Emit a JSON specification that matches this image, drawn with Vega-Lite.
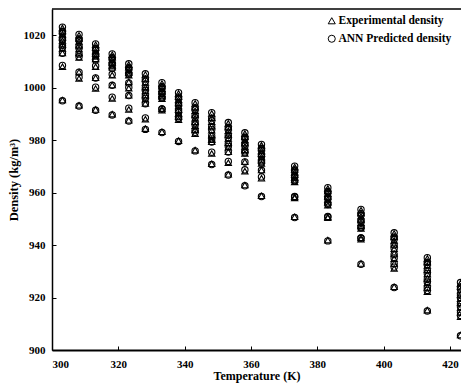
{
  "$schema": "https://vega.github.io/schema/vega-lite/v6.json",
  "width": 409,
  "height": 341,
  "autosize": {"type": "none"},
  "padding": {"left": 52, "top": 9, "right": 0, "bottom": 37},
  "background": "white",
  "config": {
    "view": {"stroke": null},
    "font": "Liberation Serif",
    "axis": {
      "grid": false,
      "domainColor": "black",
      "domainWidth": 1.5,
      "tickColor": "black",
      "tickWidth": 1,
      "tickSize": -4,
      "labelFont": "Liberation Serif",
      "labelFontWeight": "bold",
      "labelFontSize": 11,
      "labelColor": "black",
      "titleFont": "Liberation Serif",
      "titleFontWeight": "bold",
      "titleFontSize": 12.5,
      "titleColor": "black"
    },
    "legend": {
      "labelFont": "Liberation Serif",
      "labelFontWeight": "bold",
      "labelFontSize": 11.5,
      "labelColor": "black"
    }
  },
  "layer": [
    {
      "data": {"values": [
        {"T":303.15,"E":1022.8,"P":1023.1},{"T":303.15,"E":1021.6,"P":1021.4},{"T":303.15,"E":1020.4,"P":1020.8},{"T":303.15,"E":1019.2,"P":1018.9},{"T":303.15,"E":1018.0,"P":1018.2},{"T":303.15,"E":1016.6,"P":1016.2},{"T":303.15,"E":1015.0,"P":1015.3},{"T":303.15,"E":1013.2,"P":1013.1},{"T":303.15,"E":1008.0,"P":1008.5},{"T":303.15,"E":995.3,"P":995.0},
        {"T":308.15,"E":1020.0,"P":1020.3},{"T":308.15,"E":1018.8,"P":1018.6},{"T":308.15,"E":1017.6,"P":1018.0},{"T":308.15,"E":1016.2,"P":1015.9},{"T":308.15,"E":1014.8,"P":1015.0},{"T":308.15,"E":1013.2,"P":1012.8},{"T":308.15,"E":1011.5,"P":1011.8},{"T":308.15,"E":1006.0,"P":1005.9},{"T":308.15,"E":1003.5,"P":1004.0},{"T":308.15,"E":993.3,"P":993.0},
        {"T":313.15,"E":1016.4,"P":1016.7},{"T":313.15,"E":1015.2,"P":1015.0},{"T":313.15,"E":1014.0,"P":1014.4},{"T":313.15,"E":1013.0,"P":1012.7},{"T":313.15,"E":1012.0,"P":1012.2},{"T":313.15,"E":1011.0,"P":1010.6},{"T":313.15,"E":1008.0,"P":1008.3},{"T":313.15,"E":1003.8,"P":1003.7},{"T":313.15,"E":999.7,"P":1000.2},{"T":313.15,"E":991.7,"P":991.4},
        {"T":318.15,"E":1012.6,"P":1012.9},{"T":318.15,"E":1011.6,"P":1011.4},{"T":318.15,"E":1010.6,"P":1011.0},{"T":318.15,"E":1009.6,"P":1009.3},{"T":318.15,"E":1008.5,"P":1008.7},{"T":318.15,"E":1007.8,"P":1007.4},{"T":318.15,"E":1004.8,"P":1005.1},{"T":318.15,"E":1001.0,"P":1000.9},{"T":318.15,"E":995.9,"P":996.4},{"T":318.15,"E":989.9,"P":989.6},
        {"T":323.15,"E":1008.8,"P":1009.1},{"T":323.15,"E":1007.8,"P":1007.6},{"T":323.15,"E":1006.8,"P":1007.2},{"T":323.15,"E":1005.8,"P":1005.5},{"T":323.15,"E":1004.8,"P":1005.0},{"T":323.15,"E":1002.2,"P":1001.8},{"T":323.15,"E":999.8,"P":1000.1},{"T":323.15,"E":997.1,"P":997.0},{"T":323.15,"E":991.7,"P":992.2},{"T":323.15,"E":987.6,"P":987.3},
        {"T":328.15,"E":1005.0,"P":1005.3},{"T":328.15,"E":1003.5,"P":1003.3},{"T":328.15,"E":1002.0,"P":1002.4},{"T":328.15,"E":1000.3,"P":1000.0},{"T":328.15,"E":998.8,"P":999.0},{"T":328.15,"E":997.2,"P":996.8},{"T":328.15,"E":995.6,"P":995.9},{"T":328.15,"E":994.0,"P":993.9},{"T":328.15,"E":988.0,"P":988.5},{"T":328.15,"E":984.4,"P":984.1},
        {"T":333.15,"E":1001.6,"P":1001.9},{"T":333.15,"E":1000.6,"P":1000.4},{"T":333.15,"E":999.6,"P":1000.0},{"T":333.15,"E":998.6,"P":998.3},{"T":333.15,"E":997.6,"P":997.8},{"T":333.15,"E":996.8,"P":996.4},{"T":333.15,"E":995.8,"P":996.1},{"T":333.15,"E":992.0,"P":991.9},{"T":333.15,"E":991.4,"P":991.9},{"T":333.15,"E":983.2,"P":982.9},
        {"T":338.15,"E":997.8,"P":998.1},{"T":338.15,"E":996.6,"P":996.4},{"T":338.15,"E":995.4,"P":995.8},{"T":338.15,"E":994.2,"P":993.9},{"T":338.15,"E":993.0,"P":993.2},{"T":338.15,"E":991.6,"P":991.2},{"T":338.15,"E":990.2,"P":990.5},{"T":338.15,"E":989.0,"P":988.9},{"T":338.15,"E":987.8,"P":988.3},{"T":338.15,"E":979.8,"P":979.5},
        {"T":343.15,"E":994.0,"P":994.3},{"T":343.15,"E":992.6,"P":992.4},{"T":343.15,"E":991.2,"P":991.6},{"T":343.15,"E":989.8,"P":989.5},{"T":343.15,"E":988.4,"P":988.6},{"T":343.15,"E":987.0,"P":986.6},{"T":343.15,"E":985.5,"P":985.8},{"T":343.15,"E":984.0,"P":983.9},{"T":343.15,"E":982.5,"P":983.0},{"T":343.15,"E":976.2,"P":975.9},
        {"T":348.15,"E":990.2,"P":990.5},{"T":348.15,"E":988.6,"P":988.4},{"T":348.15,"E":987.0,"P":987.4},{"T":348.15,"E":985.4,"P":985.1},{"T":348.15,"E":983.8,"P":984.0},{"T":348.15,"E":982.0,"P":981.6},{"T":348.15,"E":980.2,"P":980.5},{"T":348.15,"E":979.4,"P":979.3},{"T":348.15,"E":974.9,"P":975.4},{"T":348.15,"E":971.0,"P":970.7},
        {"T":353.15,"E":986.4,"P":986.7},{"T":353.15,"E":985.0,"P":984.8},{"T":353.15,"E":983.6,"P":984.0},{"T":353.15,"E":982.2,"P":981.9},{"T":353.15,"E":980.6,"P":980.8},{"T":353.15,"E":979.0,"P":978.6},{"T":353.15,"E":977.3,"P":977.6},{"T":353.15,"E":975.6,"P":975.5},{"T":353.15,"E":971.4,"P":971.9},{"T":353.15,"E":967.0,"P":966.7},
        {"T":358.15,"E":982.5,"P":982.8},{"T":358.15,"E":981.3,"P":981.1},{"T":358.15,"E":980.1,"P":980.5},{"T":358.15,"E":978.9,"P":978.6},{"T":358.15,"E":977.6,"P":977.8},{"T":358.15,"E":976.3,"P":975.9},{"T":358.15,"E":974.9,"P":975.2},{"T":358.15,"E":971.8,"P":971.7},{"T":358.15,"E":968.2,"P":968.7},{"T":358.15,"E":962.9,"P":962.6},
        {"T":363.15,"E":978.1,"P":978.4},{"T":363.15,"E":977.0,"P":976.8},{"T":363.15,"E":975.9,"P":976.3},{"T":363.15,"E":974.8,"P":974.5},{"T":363.15,"E":973.6,"P":973.8},{"T":363.15,"E":972.4,"P":972.0},{"T":363.15,"E":971.1,"P":971.4},{"T":363.15,"E":968.6,"P":968.5},{"T":363.15,"E":965.5,"P":966.0},{"T":363.15,"E":958.8,"P":958.5},
        {"T":373.15,"E":969.8,"P":970.1},{"T":373.15,"E":968.8,"P":968.6},{"T":373.15,"E":967.8,"P":968.2},{"T":373.15,"E":966.8,"P":966.5},{"T":373.15,"E":965.8,"P":966.0},{"T":373.15,"E":965.0,"P":964.6},{"T":373.15,"E":964.1,"P":964.4},{"T":373.15,"E":958.4,"P":958.3},{"T":373.15,"E":958.0,"P":958.5},{"T":373.15,"E":950.8,"P":950.5},
        {"T":383.15,"E":961.6,"P":961.9},{"T":383.15,"E":960.6,"P":960.4},{"T":383.15,"E":959.6,"P":960.0},{"T":383.15,"E":958.5,"P":958.2},{"T":383.15,"E":957.4,"P":957.6},{"T":383.15,"E":956.3,"P":955.9},{"T":383.15,"E":955.2,"P":955.5},{"T":383.15,"E":950.8,"P":950.7},{"T":383.15,"E":950.4,"P":950.9},{"T":383.15,"E":941.9,"P":941.6},
        {"T":393.15,"E":953.3,"P":953.6},{"T":393.15,"E":952.2,"P":952.0},{"T":393.15,"E":951.0,"P":951.4},{"T":393.15,"E":949.8,"P":949.5},{"T":393.15,"E":948.5,"P":948.7},{"T":393.15,"E":947.3,"P":946.9},{"T":393.15,"E":946.3,"P":946.6},{"T":393.15,"E":942.8,"P":942.7},{"T":393.15,"E":942.2,"P":942.7},{"T":393.15,"E":933.0,"P":932.7},
        {"T":403.15,"E":944.4,"P":944.7},{"T":403.15,"E":943.2,"P":943.0},{"T":403.15,"E":941.8,"P":942.2},{"T":403.15,"E":940.3,"P":940.0},{"T":403.15,"E":938.6,"P":938.8},{"T":403.15,"E":936.8,"P":936.4},{"T":403.15,"E":934.8,"P":935.1},{"T":403.15,"E":933.0,"P":932.9},{"T":403.15,"E":931.1,"P":931.6},{"T":403.15,"E":924.1,"P":923.8},
        {"T":413.15,"E":934.9,"P":935.2},{"T":413.15,"E":933.6,"P":933.4},{"T":413.15,"E":932.2,"P":932.6},{"T":413.15,"E":930.6,"P":930.3},{"T":413.15,"E":929.0,"P":929.2},{"T":413.15,"E":927.3,"P":926.9},{"T":413.15,"E":925.6,"P":925.9},{"T":413.15,"E":923.8,"P":923.7},{"T":413.15,"E":922.2,"P":922.7},{"T":413.15,"E":915.2,"P":914.9},
        {"T":423.15,"E":925.4,"P":925.7},{"T":423.15,"E":924.2,"P":924.0},{"T":423.15,"E":922.8,"P":923.2},{"T":423.15,"E":921.2,"P":920.9},{"T":423.15,"E":919.6,"P":919.8},{"T":423.15,"E":918.0,"P":917.6},{"T":423.15,"E":916.2,"P":916.5},{"T":423.15,"E":914.4,"P":914.3},{"T":423.15,"E":912.7,"P":913.2},{"T":423.15,"E":905.7,"P":905.4}
      ]},
      "transform": [{"fold": ["E", "P"], "as": ["type", "D"]}],
      "mark": {"type": "point", "filled": false, "color": "black", "strokeWidth": 1.1, "size": 40, "clip": true, "opacity": 1},
      "encoding": {
        "x": {
          "field": "T", "type": "quantitative",
          "scale": {"domain": [300, 423.3], "nice": false, "zero": false},
          "axis": {"values": [300, 320, 340, 360, 380, 400, 420], "format": "d", "title": "Temperature (K)", "labelPadding": 12, "titlePadding": 1, "titleFontSize": 12, "domainWidth": 2}
        },
        "y": {
          "field": "D", "type": "quantitative",
          "scale": {"domain": [900, 1030], "nice": false, "zero": false},
          "axis": {"values": [900, 920, 940, 960, 980, 1000, 1020], "format": "d", "title": "Density (kg/m³)", "labelPadding": 11, "titlePadding": 3}
        },
        "shape": {
          "field": "type", "type": "nominal",
          "scale": {"domain": ["E", "P"], "range": ["triangle-up", "circle"]},
          "legend": {
            "title": null,
            "orient": "none",
            "legendX": 274,
            "legendY": 6,
            "labelExpr": "datum.label == 'E' ? 'Experimental density' : 'ANN Predicted density'",
            "symbolSize": 50,
            "symbolStrokeColor": "black",
            "symbolStrokeWidth": 1,
            "symbolFillColor": "transparent",
            "rowPadding": 5,
            "labelOffset": 1
          }
        }
      }
    },
    {
      "data": {"values": [{}]},
      "mark": {"type": "rule", "color": "black", "strokeWidth": 1.5},
      "encoding": {"y": {"datum": 1030}}
    }
  ]
}
